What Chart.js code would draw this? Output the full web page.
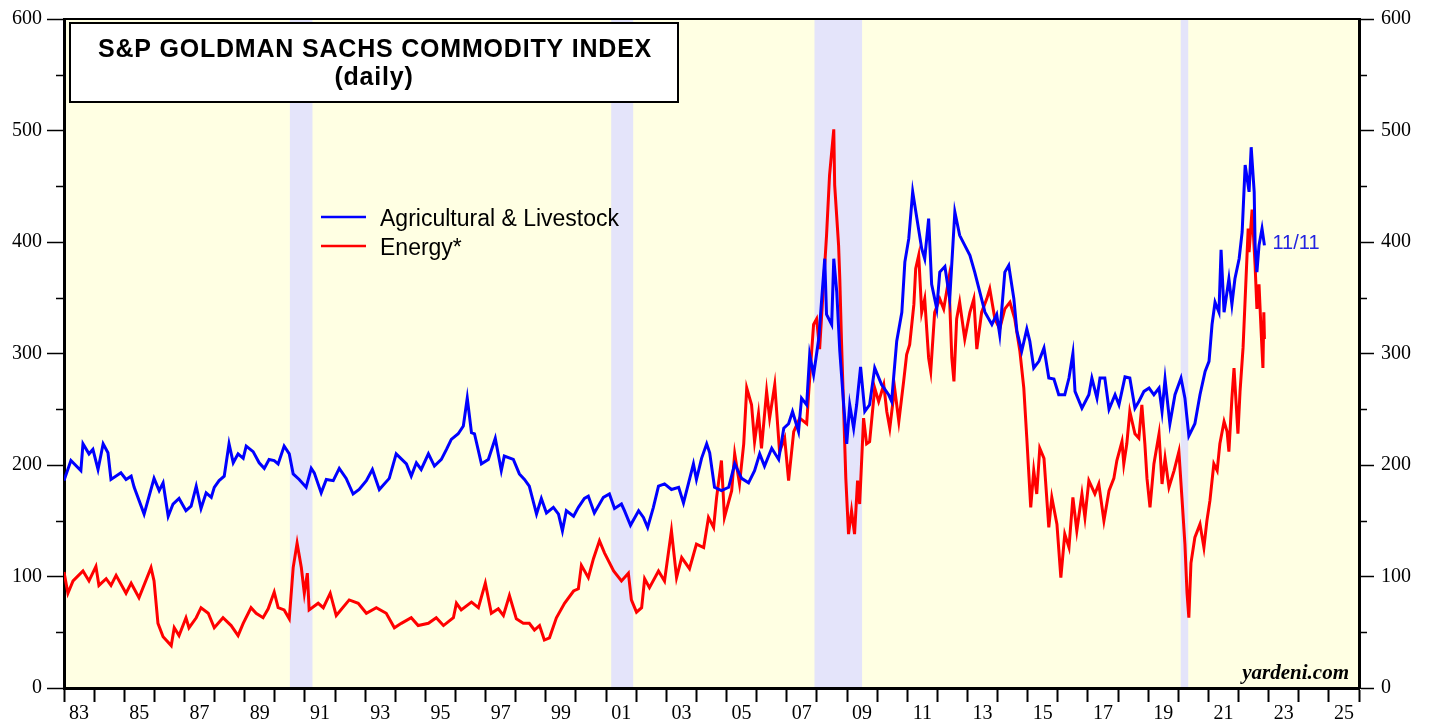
<!doctype html>
<html lang="en">
<head>
<meta charset="UTF-8" />
<title>S&amp;P Goldman Sachs Commodity Index</title>
<script src="https://cdn.jsdelivr.net/npm/chart.js"></script>
<style>
  html, body { margin: 0; padding: 0; background: #fff; }
  canvas { display: block; }
</style>
</head>
<body>
<canvas id="myChart" width="1431" height="721"></canvas>
<script>
// values (decimal year, index level)
const agriYears = [
  1983.00,1983.23,1983.56,1983.63,1983.83,1983.96,1984.13,1984.30,1984.46,1984.56,1984.89,
  1985.06,1985.23,1985.33,1985.66,1985.99,1986.16,1986.29,1986.46,1986.62,1986.82,
  1987.05,1987.22,1987.39,1987.55,1987.72,1987.89,1987.99,1988.15,1988.32,1988.48,1988.62,1988.78,1988.95,
  1989.05,1989.28,1989.48,1989.65,1989.81,1989.98,1990.11,1990.31,1990.48,1990.61,1990.81,
  1991.04,1991.21,1991.31,1991.54,1991.71,1991.94,1992.14,1992.37,1992.60,1992.80,
  1993.04,1993.24,1993.47,1993.80,1994.03,1994.37,1994.53,1994.70,1994.86,
  1995.10,1995.30,1995.53,1995.70,1995.86,1996.09,1996.26,1996.39,1996.53,1996.63,1996.86,
  1997.09,1997.32,1997.52,1997.62,1997.92,1998.12,1998.29,1998.45,1998.69,1998.85,
  1999.02,1999.25,1999.42,1999.55,1999.68,1999.92,2000.08,2000.28,2000.41,2000.61,2000.91,
  2001.11,2001.28,2001.51,2001.61,2001.81,2002.08,2002.24,2002.38,2002.57,2002.74,2002.94,
  2003.17,2003.41,2003.57,2003.74,2003.90,2004.00,2004.17,2004.34,2004.44,2004.60,2004.83,
  2005.07,2005.27,2005.50,2005.73,2005.93,2006.10,2006.26,2006.50,2006.73,2006.90,
  2007.06,2007.19,2007.39,2007.49,2007.66,2007.76,2007.89,2008.06,2008.16,2008.26,2008.32,2008.49,2008.56,2008.66,2008.76,2008.89,2008.99,
  2009.09,2009.22,2009.32,2009.45,2009.59,2009.75,2009.92,2010.15,2010.38,2010.48,2010.65,2010.82,2010.92,
  2011.05,2011.18,2011.32,2011.48,2011.58,2011.71,2011.81,2011.98,2012.08,2012.25,2012.41,2012.58,2012.74,2012.91,
  2013.08,2013.24,2013.41,2013.58,2013.81,2013.97,2014.07,2014.24,2014.37,2014.54,2014.64,2014.80,2014.97,
  2015.07,2015.20,2015.37,2015.54,2015.70,2015.87,2016.03,2016.23,2016.37,2016.50,2016.57,2016.80,
  2017.03,2017.13,2017.30,2017.40,2017.56,2017.70,2017.90,2018.03,2018.23,2018.39,2018.56,2018.69,2018.86,
  2019.03,2019.19,2019.36,2019.46,2019.56,2019.72,2019.89,2020.09,2020.22,2020.35,2020.55,2020.72,2020.89,
  2021.02,2021.12,2021.22,2021.35,2021.42,2021.52,2021.68,2021.78,2021.88,2022.02,2022.12,2022.22,2022.35,2022.42,2022.52,2022.55,2022.61,2022.68,2022.78,2022.86
];
const agriValues = [
  186,204,195,219,210,214,196,219,211,187,193,
  187,190,180,156,188,177,184,154,165,170,
  159,163,181,161,175,171,180,186,190,219,202,210,206,
  217,212,202,197,205,204,201,217,210,192,187,
  180,197,193,175,187,186,197,188,174,178,
  186,196,178,188,210,201,190,202,196,
  210,199,205,214,223,228,235,260,229,228,201,
  205,224,195,208,205,192,187,181,156,170,
  157,162,156,141,159,154,162,170,172,157,171,
  174,161,165,159,146,159,153,144,162,181,183,
  178,180,166,184,201,187,206,219,211,180,177,
  180,201,188,184,195,210,199,215,205,233,
  237,248,230,260,254,299,281,313,349,385,335,326,385,355,302,254,219,
  254,233,254,288,248,254,287,272,263,257,311,337,382,
  403,445,421,394,385,421,362,340,373,378,349,427,406,397,
  388,373,355,337,326,335,317,373,379,349,320,302,322,
  311,287,293,305,278,277,263,263,278,300,266,251,
  263,278,260,278,278,250,263,254,279,278,251,257,266,
  269,263,269,248,277,237,263,278,260,226,237,263,284,
  293,326,346,337,393,337,367,344,367,385,409,469,445,485,445,397,373,397,412,397
];

const energyYears = [
  1983.00,1983.13,1983.30,1983.63,1983.83,1984.06,1984.16,1984.40,1984.56,1984.73,
  1985.06,1985.23,1985.49,1985.89,1985.99,1986.12,1986.29,1986.56,1986.66,1986.82,
  1987.05,1987.15,1987.39,1987.55,1987.79,1987.99,1988.28,1988.55,1988.78,1988.95,
  1989.21,1989.38,1989.61,1989.78,1989.98,1990.11,1990.31,1990.48,1990.61,1990.74,1990.88,1990.98,
  1991.08,1991.14,1991.44,1991.61,1991.84,1992.04,1992.47,1992.77,
  1993.04,1993.37,1993.70,1993.97,1994.20,1994.53,1994.76,
  1995.10,1995.36,1995.60,1995.93,1996.03,1996.19,1996.53,1996.76,1996.99,
  1997.19,1997.42,1997.59,1997.79,1998.02,1998.25,1998.45,1998.62,1998.79,1998.95,
  1999.12,1999.35,1999.62,1999.92,2000.08,2000.18,2000.41,2000.58,2000.78,2000.95,
  2001.25,2001.51,2001.74,2001.84,2002.01,2002.18,2002.28,2002.44,2002.74,2002.94,
  2003.17,2003.34,2003.51,2003.77,2004.00,2004.24,2004.40,2004.57,2004.67,2004.83,2004.93,
  2005.17,2005.27,2005.43,2005.57,2005.67,2005.83,2005.93,2006.06,2006.16,2006.33,2006.43,2006.60,2006.76,2006.93,
  2007.06,2007.23,2007.43,2007.66,2007.73,2007.89,2007.99,2008.09,2008.22,2008.32,2008.42,2008.56,2008.59,2008.72,2008.76,2008.82,2008.89,2008.96,
  2009.05,2009.15,2009.25,2009.35,2009.42,2009.55,2009.65,2009.75,2009.92,2010.05,2010.22,2010.32,2010.42,2010.58,2010.72,2010.88,2010.98,
  2011.08,2011.22,2011.28,2011.38,2011.48,2011.58,2011.71,2011.78,2011.91,2012.08,2012.21,2012.38,2012.48,2012.55,2012.64,2012.74,2012.91,
  2013.08,2013.21,2013.31,2013.47,2013.64,2013.74,2013.91,2014.07,2014.24,2014.41,2014.57,2014.74,2014.87,2014.97,
  2015.10,2015.20,2015.30,2015.40,2015.54,2015.70,2015.80,2015.97,2016.10,2016.23,2016.37,2016.50,2016.63,2016.80,2016.90,
  2017.03,2017.23,2017.36,2017.53,2017.70,2017.86,2017.96,2018.13,2018.19,2018.29,2018.39,2018.56,2018.69,2018.79,2018.89,2018.96,
  2019.06,2019.19,2019.36,2019.46,2019.56,2019.69,2019.86,2020.02,2020.12,2020.22,2020.29,2020.35,2020.42,2020.55,2020.72,2020.85,2020.95,
  2021.05,2021.18,2021.29,2021.38,2021.52,2021.62,2021.68,2021.78,2021.85,2021.98,2022.05,2022.15,2022.22,2022.32,2022.35,2022.45,2022.55,2022.61,2022.68,2022.75,2022.81,2022.84,2022.86
];
const energyValues = [
  104,85,96,105,96,109,92,98,92,101,
  85,94,81,108,96,58,46,38,54,47,
  63,54,63,72,67,54,63,56,47,58,
  72,67,63,71,86,72,70,62,108,130,108,85,
  103,70,76,72,85,65,79,76,
  67,72,67,54,58,63,56,
  58,63,56,63,76,70,77,72,94,
  67,71,65,83,62,58,58,52,56,43,
  45,63,76,87,89,110,99,116,132,121,
  105,96,103,79,68,72,98,90,105,96,
  141,99,117,107,129,126,153,144,171,204,153,
  177,210,183,219,269,254,221,246,215,266,242,272,212,224,
  186,230,242,237,266,326,331,304,362,406,460,501,451,397,367,308,248,188,
  138,159,138,186,165,242,219,221,269,257,272,248,233,269,239,275,299,
  308,344,376,388,337,349,296,284,337,349,340,367,296,275,331,346,313,
  337,349,304,337,349,358,331,322,340,346,331,302,269,224,
  162,195,174,215,206,144,171,147,99,138,126,171,141,174,153,
  186,174,183,150,177,188,204,221,201,219,248,228,224,254,219,188,
  162,201,228,183,206,180,195,212,171,129,85,63,112,135,147,126,150,
  168,201,195,219,239,230,212,260,287,228,266,305,349,412,391,429,379,340,362,320,287,337,313
];

// recession periods (shaded)
const recessionStart = [1990.50, 2001.17, 2007.92, 2020.08];
const recessionEnd   = [1991.25, 2001.90, 2009.50, 2020.33];

const yMinorTicks = [50, 150, 250, 350, 450, 550];
const lastDateLabel = '11/11';

const ctx = document.getElementById('myChart');

function toPoints(xs, ys) {
    return xs.map(function (x, i) { return { x: x, y: ys[i] }; });
}

const serif = '"Liberation Serif", "Times New Roman", serif';
const sans = '"Liberation Sans", Arial, sans-serif';

/* yellow plot area + recession bands, drawn under everything */
const backdrop = {
    id: 'backdrop',
    beforeDraw(chart) {
        const c = chart.ctx, a = chart.chartArea, xs = chart.scales.x;
        c.save();
        c.fillStyle = '#ffffe3';
        c.fillRect(a.left, a.top, a.right - a.left, a.bottom - a.top);
        c.fillStyle = '#e4e4fa';
        recessionStart.forEach(function (s, i) {
            const x1 = xs.getPixelForValue(s), x2 = xs.getPixelForValue(recessionEnd[i]);
            c.fillRect(x1, a.top, x2 - x1, a.bottom - a.top);
        });
        c.restore();
    }
};

/* title box, legend, notes, top frame, minor ticks */
const extras = {
    id: 'extras',
    afterDraw(chart) {
        const c = chart.ctx, a = chart.chartArea;
        const yl = chart.scales.y;
        c.save();

        // top frame line
        c.strokeStyle = '#000';
        c.lineWidth = 2;
        c.beginPath();
        c.moveTo(a.left - 1, a.top);
        c.lineTo(a.right + 1, a.top);
        c.stroke();

        // minor ticks on both sides
        c.lineWidth = 1.5;
        yMinorTicks.forEach(function (v) {
            const py = Math.round(yl.getPixelForValue(v)) + 0.5;
            c.beginPath();
            c.moveTo(a.left - 8, py); c.lineTo(a.left, py);
            c.moveTo(a.right, py); c.lineTo(a.right + 8, py);
            c.stroke();
        });

        // title box
        c.fillStyle = '#fff';
        c.fillRect(70, 23, 608, 79);
        c.lineWidth = 2;
        c.strokeStyle = '#000';
        c.strokeRect(70, 23, 608, 79);
        c.fillStyle = '#000';
        c.textAlign = 'center';
        c.textBaseline = 'alphabetic';
        c.font = 'bold 25px ' + sans;
        c.letterSpacing = '0.8px';
        c.fillText('S&P GOLDMAN SACHS COMMODITY INDEX', 375, 57);
        c.fillText('(daily)', 374, 85);
        c.letterSpacing = '0px';

        // legend
        c.textAlign = 'left';
        c.font = '23px ' + sans;
        chart.data.datasets.forEach(function (ds, i) {
            const ly = 217 + i * 29;
            c.strokeStyle = ds.borderColor;
            c.lineWidth = 2.5;
            c.beginPath();
            c.moveTo(321, ly); c.lineTo(366, ly);
            c.stroke();
            c.fillStyle = '#000';
            c.fillText(ds.label, 380, ly + 9);
        });

        // last date note next to the blue series
        const meta = chart.getDatasetMeta(0);
        const last = meta.data[meta.data.length - 1];
        c.fillStyle = '#2424e0';
        c.font = '20px ' + sans;
        c.textBaseline = 'middle';
        c.fillText(lastDateLabel, last.x + 8, last.y - 2);

        // source
        c.fillStyle = '#000';
        c.textAlign = 'right';
        c.textBaseline = 'alphabetic';
        c.font = 'italic bold 21px ' + serif;
        c.fillText('yardeni.com', a.right - 10, a.bottom - 9);

        c.restore();
    }
};

const yTicks = {
    stepSize: 100,
    color: '#000',
    font: { family: serif, size: 20 }
};

new Chart(ctx, {
    type: 'line',
    data: {
        datasets: [{
            label: 'Agricultural & Livestock',
            data: toPoints(agriYears, agriValues),
            borderColor: '#0000ff',
            borderWidth: 3,
            pointRadius: 0,
            tension: 0
        }, {
            label: 'Energy*',
            data: toPoints(energyYears, energyValues),
            borderColor: '#ff0000',
            borderWidth: 3,
            pointRadius: 0,
            tension: 0
        }]
    },
    options: {
        responsive: false,
        animation: false,
        devicePixelRatio: 1,
        layout: { padding: { top: 16, left: 0, right: 0, bottom: 0 } },
        plugins: {
            legend: { display: false },
            tooltip: { enabled: false }
        },
        scales: {
            x: {
                type: 'linear',
                min: 1983,
                max: 2026,
                afterFit(s) { s.height = 33; },
                ticks: {
                    stepSize: 0.5,
                    autoSkip: false,
                    maxRotation: 0,
                    minRotation: 0,
                    padding: 0,
                    color: '#000',
                    font: { family: serif, size: 20 },
                    callback: function (v) {
                        // label odd years, centred in the middle of the year
                        return (v % 2 === 1.5) ? String(Math.floor(v)).slice(2) : '';
                    }
                },
                grid: {
                    drawOnChartArea: false,
                    tickLength: 14,
                    tickWidth: 2,
                    tickColor: function (c) {
                        return (c.tick && Number.isInteger(c.tick.value)) ? '#000' : 'rgba(0,0,0,0)';
                    }
                },
                border: { color: '#000', width: 3 }
            },
            y: {
                position: 'left',
                min: 0,
                max: 600,
                afterFit(s) { s.width = 64; },
                ticks: Object.assign({ padding: 5 }, yTicks),
                grid: { drawOnChartArea: false, tickLength: 17, tickWidth: 1.5, tickColor: '#000' },
                border: { color: '#000', width: 3 }
            },
            y2: {
                position: 'right',
                min: 0,
                max: 600,
                afterFit(s) { s.width = 72; },
                ticks: Object.assign({ padding: 7 }, yTicks),
                grid: { drawOnChartArea: false, tickLength: 15, tickWidth: 1.5, tickColor: '#000' },
                border: { color: '#000', width: 3 }
            }
        }
    },
    plugins: [backdrop, extras]
});
</script>
</body>
</html>
